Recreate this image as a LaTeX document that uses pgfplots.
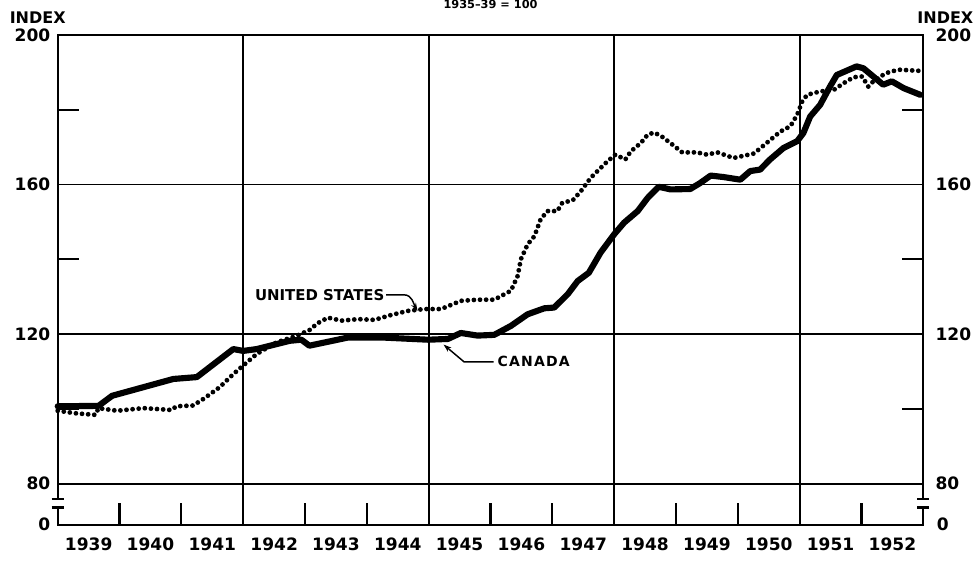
\documentclass[border=0pt]{standalone}
\usepackage{pgfplots}
\pgfplotsset{compat=1.18}
\usepackage{fontspec}
\setmainfont{DejaVu Sans}
\usetikzlibrary{arrows.meta}

\pgfplotstableread{
year  v
1939.00 100.7
1939.66 100.8
1939.88 103.5
1940.87 108.0
1941.25 108.5
1941.84 116.0
1942.00 115.5
1942.22 116.0
1942.75 118.2
1942.94 118.5
1943.07 116.9
1943.70 119.1
1944.23 119.1
1944.99 118.5
1945.31 118.7
1945.52 120.3
1945.79 119.6
1946.06 119.8
1946.33 122.2
1946.60 125.3
1946.87 126.9
1947.03 127.1
1947.25 130.7
1947.41 134.2
1947.59 136.4
1947.78 141.8
1948.00 146.7
1948.16 149.8
1948.38 152.9
1948.54 156.4
1948.72 159.4
1948.91 158.7
1949.23 158.8
1949.39 160.4
1949.56 162.4
1949.77 162.0
1950.04 161.3
1950.20 163.6
1950.36 164.0
1950.52 166.7
1950.74 169.8
1950.96 171.6
1951.06 173.8
1951.17 178.2
1951.33 181.3
1951.49 186.2
1951.60 189.3
1951.92 191.6
1952.03 191.1
1952.19 188.9
1952.35 186.7
1952.49 187.6
1952.68 185.8
1952.95 184.0
}\canada

\pgfplotstableread{
year  v
1939.00 99.5
1939.30 98.8
1939.61 98.4
1939.66 100.2
1939.96 99.5
1940.39 100.2
1940.84 99.7
1940.92 100.7
1941.19 100.9
1941.36 102.7
1941.62 105.8
1941.84 109.3
1942.00 111.6
1942.22 114.7
1942.54 117.8
1942.86 119.5
1943.10 121.3
1943.18 122.7
1943.37 124.4
1943.59 123.6
1943.86 124.0
1944.12 123.8
1944.39 125.1
1944.66 126.2
1944.93 126.7
1945.20 126.7
1945.52 128.9
1945.79 129.2
1946.06 129.2
1946.33 131.6
1946.44 135.6
1946.49 140.0
1946.60 144.0
1946.71 146.2
1946.81 150.7
1946.92 152.9
1947.08 152.9
1947.16 155.1
1947.33 155.8
1947.46 158.2
1947.62 161.8
1947.73 163.6
1947.89 166.2
1948.02 168.0
1948.18 166.7
1948.27 168.9
1948.43 171.1
1948.54 173.3
1948.64 173.9
1948.75 173.1
1948.91 171.1
1949.10 168.6
1949.34 168.6
1949.50 168.0
1949.67 168.6
1949.93 167.1
1950.26 168.3
1950.50 171.6
1950.69 174.2
1950.85 175.6
1950.96 178.7
1951.04 182.2
1951.12 184.0
1951.33 184.9
1951.55 185.3
1951.71 187.1
1951.87 188.7
1952.01 188.9
1952.11 186.2
1952.19 187.6
1952.30 188.9
1952.46 190.2
1952.62 190.7
1952.95 190.4
}\us

\begin{document}
\begin{tikzpicture}[font=\bfseries]
\begin{axis}[
  scale only axis, width=649.5pt, height=367.5pt,
  xmin=1939, xmax=1953, ymin=69, ymax=200,
  clip=false,
  axis line style={line width=1.6pt},
  /pgf/number format/assume math mode=true,
  tick label style={font=\bfseries\fontsize{12.8}{14}\selectfont},
  xtick={1939.5,1940.5,1941.5,1942.5,1943.5,1944.5,1945.5,1946.5,1947.5,1948.5,1949.5,1950.5,1951.5,1952.5},
  xticklabels={1939,1940,1941,1942,1943,1944,1945,1946,1947,1948,1949,1950,1951,1952},
  every major x tick/.append style={draw=none},
  minor xtick={1940,1941,1942,1943,1944,1945,1946,1947,1948,1949,1950,1951,1952},
  xtick pos=bottom,
  tick align=inside,
  minor tick length=16pt,
  every minor tick/.append style={line width=1.6pt, black},
  xticklabel style={yshift=-6pt},
  extra x ticks={1942,1945,1948,1951},
  extra x tick labels={},
  extra x tick style={grid=major},
  ytick={80,120,160,200},
  every major y tick/.append style={draw=none},
  minor ytick={100,140,180},
  ytick pos=both,
  yticklabel pos=left,
  yticklabel style={xshift=-2pt},
  ymajorgrids,
  major grid style={black, line width=1.3pt},
  extra y ticks={69},
  extra y tick labels={0},
  extra y tick style={grid=none},
]
\addplot[black, line width=4.6pt, line join=round, line cap=round] table[x=year,y=v]{\canada};
\addplot[black, line width=3.6pt, line cap=round, dash pattern=on 0pt off 4.6pt] table[x=year,y=v]{\us};

% axis break marks
\fill[white] ([xshift=-4pt]axis cs:1939,73.9) rectangle ([xshift=4pt]axis cs:1939,75.6);
\fill[white] ([xshift=-4pt]axis cs:1953,73.9) rectangle ([xshift=4pt]axis cs:1953,75.6);
\draw[line width=2pt] ([xshift=-4.5pt]axis cs:1939,75.9) -- ([xshift=4.5pt]axis cs:1939,75.9);
\draw[line width=2pt] ([xshift=-4.5pt]axis cs:1939,73.6) -- ([xshift=4.5pt]axis cs:1939,73.6);
\draw[line width=2pt] ([xshift=-4.5pt]axis cs:1953,75.9) -- ([xshift=4.5pt]axis cs:1953,75.9);
\draw[line width=2pt] ([xshift=-4.5pt]axis cs:1953,73.6) -- ([xshift=4.5pt]axis cs:1953,73.6);

% right-hand labels
\node[anchor=west, font=\bfseries\fontsize{12.8}{14}\selectfont, inner sep=0pt] at ([xshift=9pt]axis cs:1953,200) {200};
\node[anchor=west, font=\bfseries\fontsize{12.8}{14}\selectfont, inner sep=0pt] at ([xshift=9pt]axis cs:1953,160) {160};
\node[anchor=west, font=\bfseries\fontsize{12.8}{14}\selectfont, inner sep=0pt] at ([xshift=9pt]axis cs:1953,120) {120};
\node[anchor=west, font=\bfseries\fontsize{12.8}{14}\selectfont, inner sep=0pt] at ([xshift=9pt]axis cs:1953,80) {80};
\node[anchor=west, font=\bfseries\fontsize{12.8}{14}\selectfont, inner sep=0pt] at ([xshift=10pt]axis cs:1953,69) {0};

% INDEX labels
\node[font=\bfseries\fontsize{12}{14}\selectfont] at ([xshift=-15pt,yshift=13pt]rel axis cs:0,1) {INDEX};
\node[font=\bfseries\fontsize{12}{14}\selectfont] at ([xshift=16.5pt,yshift=13pt]rel axis cs:1,1) {INDEX};
\node[anchor=base, font=\bfseries\fontsize{8.5}{10}\selectfont, inner sep=0pt] at ([yshift=19.5pt]rel axis cs:0.5,1) {1935--39 = 100};

% annotations
\node[anchor=east, font=\bfseries\fontsize{11.2}{13}\selectfont, inner sep=1pt] at (axis cs:1944.31,130.5) {UNITED STATES};
\draw[line width=1.1pt, -{Stealth[length=6pt,width=4pt]}] (axis cs:1944.31,130.5) -- (axis cs:1944.6,130.5) to[out=0,in=120] (axis cs:1944.82,126.2);
\node[anchor=west, font=\bfseries\fontsize{10.5}{12}\selectfont, inner sep=1pt] at (axis cs:1946.09,112.6) {C\kern0.9pt A\kern0.9pt N\kern0.9pt A\kern0.9pt D\kern0.9pt A};
\draw[line width=1.1pt, -{Stealth[length=6pt,width=4pt]}] (axis cs:1946.05,112.6) -- (axis cs:1945.57,112.6) -- (axis cs:1945.24,117.2);

\coordinate (ll) at (rel axis cs:0,0);
\coordinate (ur) at (rel axis cs:1,1);
\end{axis}
\pgfresetboundingbox
\useasboundingbox ([shift={(-43.3pt,-27pt)}]ll) rectangle ([shift={(38.75pt,26.25pt)}]ur);
\end{tikzpicture}
\end{document}
